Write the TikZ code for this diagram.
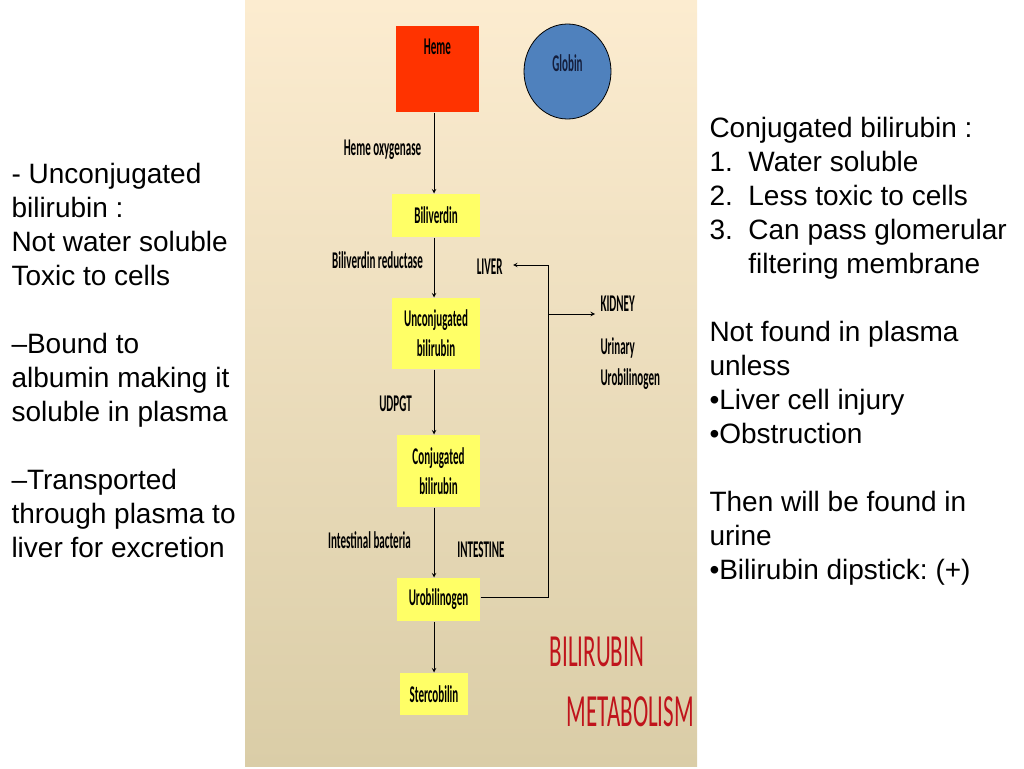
\documentclass[tikz,border=0pt]{standalone}
\usepackage{fontspec}
\setmainfont{Liberation Sans}
\newfontfamily\chartfont[FakeStretch=0.46]{Carlito}
\newfontfamily\titlefont[FakeStretch=0.5]{Carlito}
\usepackage{tikz}
\usetikzlibrary{shapes,positioning}
\frenchspacing
\definecolor{panelTop}{RGB}{252,236,208}
\definecolor{panelBottom}{RGB}{218,205,167}
\definecolor{hemeRed}{RGB}{255,51,0}
\definecolor{globinBlue}{RGB}{79,129,189}
\definecolor{boxYellow}{RGB}{255,255,102}
\definecolor{titleRed}{RGB}{192,20,28}
\tikzset{box/.style={rectangle,fill=boxYellow,inner sep=0pt,align=center,
    font=\chartfont\bfseries\fontsize{24}{30}\selectfont},
  lbl/.style={inner sep=0pt,font=\chartfont\bfseries\fontsize{24}{31}\selectfont},
  note/.style={inner sep=0pt,align=left,anchor=north west,
    font=\fontsize{28}{34}\selectfont},
  ttl/.style={inner sep=0pt,text=titleRed,font=\titlefont\fontsize{46}{50}\selectfont}}

\begin{document}
\begin{tikzpicture}[>=stealth,x=1pt,y=-1pt,line width=1pt]
        \useasboundingbox (0,0) rectangle (1024,768);
        \shade[top color=panelTop,bottom color=panelBottom] (245,0) rectangle (697,766);

        \coordinate (spine) at (434,0);
        \node[rectangle,fill=hemeRed,minimum width=83pt,minimum height=86pt,
            label={[lbl,anchor=center,yshift=22pt]center:Heme}] (heme) at (437.5,69) {};
        \node[ellipse,draw,fill=globinBlue,line width=0.8pt,minimum width=87pt,minimum height=95pt,
            label={[lbl,anchor=center,yshift=8pt,text={rgb,255:red,20;green,30;blue,60}]center:Globin}] (globin) at (567.5,71.5) {};
        \node[box,minimum width=88pt,minimum height=43pt] (bili) at (436,215.5) {Biliverdin};
        \node[box,minimum width=88pt,minimum height=71pt] (unconj) at (436,333.5) {Unconjugated\\bilirubin};
        \node[box,minimum width=83pt,minimum height=72pt] (conj) at (438.5,471) {Conjugated\\bilirubin};
        \node[box,minimum width=83pt,minimum height=43pt] (urob) at (438.5,599.5) {Urobilinogen};
        \node[box,minimum width=68pt,minimum height=42pt] (sterco) at (434,694) {Stercobilin};

        \node[lbl] (hox) at (382.5,150) {Heme oxygenase};
        \node[lbl] (bred) at (377.5,260) {Biliverdin reductase};
        \node[lbl] (udpgt) at (395.5,404) {UDPGT};
        \node[lbl] (bact) at (369.5,540) {Intestinal bacteria};
        \node[lbl] (intestine) at (481,550) {INTESTINE};
        \node[lbl,anchor=east] (liver) at (503,267) {LIVER};
        \node[lbl,anchor=west] (kidney) at (600,304) {KIDNEY};
        \node[lbl,anchor=west,align=left] (urinary) at (600,363.5) {Urinary\\Urobilinogen};
        \node[ttl] (t1) at (597,652) {BILIRUBIN};
        \node[ttl] (t2) at (630.5,712) {METABOLISM};

        \coordinate (bend) at (548,265);
        \coordinate (livertip) at (513,265);
        \coordinate (kidneytip) at (595,314);

        \draw [->] (heme.south -| spine) to [] (bili.north -| spine);
        \draw [->] (bili.south -| spine) to [] (unconj.north -| spine);
        \draw [->] (unconj.south -| spine) to [] (conj.north -| spine);
        \draw [->] (conj.south -| spine) to [] (urob.north -| spine);
        \draw [->] (urob.south -| spine) to [] (sterco.north -| spine);
        \draw [->] ([yshift=2.5pt]urob.east) -| (bend) -- (livertip);
        \draw [->] (bend |- kidneytip) -- (kidneytip);

        \node[note] (left) at (11,163) {- Unconjugated\\bilirubin :\\Not water soluble\\Toxic to cells\\[34pt]%
            --Bound to\\albumin making it\\soluble in plasma\\[34pt]--Transported\\through plasma to\\liver for excretion};
        \node[note] (right) at (709,117) {Conjugated bilirubin :\\1.\ \ Water soluble\\2.\ \ Less toxic to cells\\%
            3.\ \ Can pass glomerular\\\hphantom{3.\ \ }filtering membrane\\[34pt]Not found in plasma\\unless\\%
            •Liver cell injury\\•Obstruction\\[34pt]Then will be found in\\urine\\•Bilirubin dipstick: (+)};
    \end{tikzpicture}
\end{document}
